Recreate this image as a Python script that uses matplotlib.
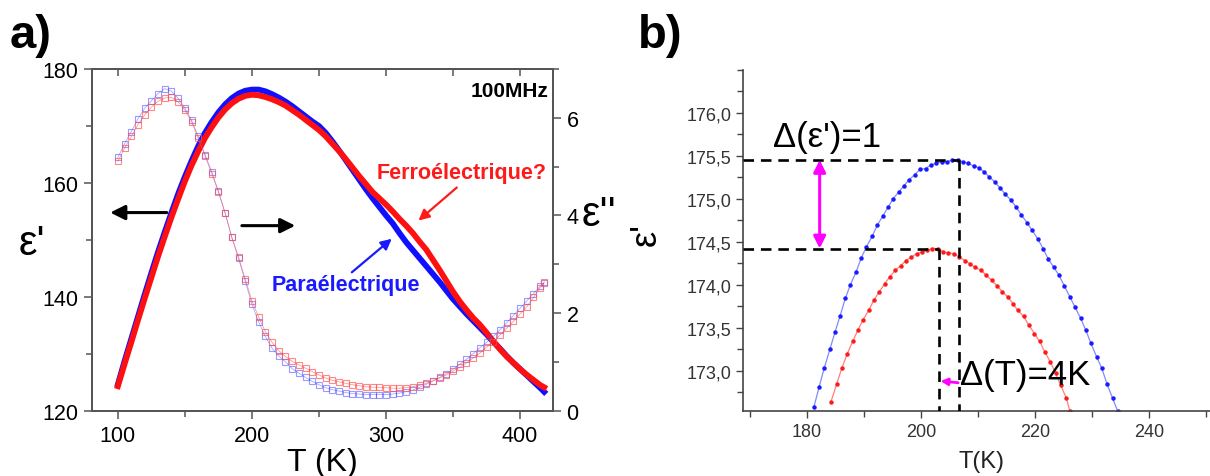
"""Dielectric permittivity vs temperature: full sweep (a) and zoom on the maximum (b)."""

from __future__ import annotations

import matplotlib

matplotlib.use("Agg")
import matplotlib.pyplot as plt
from matplotlib.ticker import FixedLocator, MultipleLocator

plt.rcParams["font.family"] = ["Liberation Sans", "DejaVu Sans"]

# ---- panel a: 100 MHz sweep ----
TEMP_A = [100, 105, 110, 115, 120, 125, 130, 135, 140, 145, 150, 155, 160, 165, 170, 175,
          180, 185, 190, 195, 200, 205, 210, 215, 220, 225, 230, 235, 240, 245, 250, 255,
          260, 265, 270, 275, 280, 285, 290, 295, 300, 305, 310, 315, 320, 325, 330, 335,
          340, 345, 350, 355, 360, 365, 370, 375, 380, 385, 390, 395, 400, 405, 410, 415, 418]

EPS1_PARA = [124.6, 128.7, 132.6, 136.5, 140.4, 144.2, 147.9, 151.4, 154.8, 158.1, 161.1,
             163.9, 166.5, 168.8, 170.7, 172.4, 173.8, 174.9, 175.7, 176.2, 176.4, 176.4,
             176.1, 175.6, 175.0, 174.3, 173.5, 172.6, 171.7, 170.8, 170.0, 168.8, 167.3,
             165.7, 164.0, 162.3, 160.6, 158.9, 157.3, 155.8, 154.3, 152.9, 151.2, 149.6,
             148.2, 146.8, 145.4, 144.0, 142.6, 141.1, 139.6, 138.3, 137.0, 135.8, 134.6,
             133.4, 132.1, 130.9, 129.6, 128.4, 127.3, 126.2, 125.1, 124.0, 123.3]
EPS1_FERRO = [124.3, 128.2, 132.0, 135.9, 139.7, 143.4, 147.1, 150.6, 154.0, 157.2, 160.3,
              163.1, 165.6, 167.9, 169.8, 171.5, 172.9, 174.0, 174.8, 175.3, 175.5, 175.4,
              175.1, 174.7, 174.2, 173.6, 172.8, 172.0, 171.1, 170.2, 169.3, 168.2, 166.9,
              165.6, 164.2, 162.7, 161.2, 159.8, 158.4, 157.3, 156.2, 155.0, 153.7, 152.5,
              151.2, 149.7, 148.3, 146.5, 144.7, 142.8, 140.9, 139.2, 137.7, 136.3, 135.1,
              133.7, 132.2, 130.8, 129.5, 128.4, 127.3, 126.3, 125.4, 124.5, 124.1]
EPS2_PARA = [5.19, 5.47, 5.72, 5.98, 6.20, 6.35, 6.50, 6.60, 6.55, 6.40, 6.20, 5.95, 5.62,
             5.25, 4.90, 4.50, 4.05, 3.55, 3.12, 2.65, 2.18, 1.82, 1.52, 1.28, 1.12, 1.00,
             0.86, 0.77, 0.68, 0.60, 0.53, 0.47, 0.43, 0.40, 0.37, 0.35, 0.34, 0.33, 0.33,
             0.33, 0.33, 0.34, 0.36, 0.39, 0.42, 0.48, 0.54, 0.61, 0.68, 0.76, 0.85, 0.95,
             1.05, 1.17, 1.29, 1.40, 1.52, 1.66, 1.80, 1.95, 2.10, 2.25, 2.40, 2.55, 2.62]
EPS2_FERRO = [5.11, 5.38, 5.62, 5.86, 6.06, 6.22, 6.34, 6.41, 6.42, 6.33, 6.16, 5.92, 5.58,
              5.22, 4.86, 4.48, 4.05, 3.55, 3.15, 2.70, 2.25, 1.92, 1.62, 1.40, 1.23, 1.11,
              1.01, 0.94, 0.87, 0.80, 0.73, 0.67, 0.62, 0.59, 0.56, 0.53, 0.51, 0.49, 0.48,
              0.48, 0.47, 0.46, 0.46, 0.47, 0.49, 0.52, 0.56, 0.61, 0.67, 0.73, 0.81, 0.89,
              0.98, 1.08, 1.18, 1.30, 1.41, 1.55, 1.69, 1.83, 1.98, 2.13, 2.32, 2.52, 2.64]

# ---- panel b: zoom on the maximum ----
TEMP_B_PARA = [181.2, 182.1, 183.0, 184.0, 184.9, 185.8, 186.7, 187.6, 188.6, 189.5, 190.4,
               191.4, 192.3, 193.3, 194.2, 195.1, 196.1, 197.0, 197.9, 198.9, 199.8, 200.8,
               201.7, 202.6, 203.6, 204.5, 205.5, 206.4, 207.3, 208.3, 209.2, 210.1, 211.1,
               212.0, 213.0, 213.9, 214.8, 215.8, 216.7, 217.6, 218.6, 219.5, 220.5, 221.4,
               222.3, 223.3, 224.2, 225.1, 226.1, 227.0, 228.0, 228.9, 229.8, 230.8, 231.7,
               232.6, 233.6, 234.5]
EPS_B_PARA = [172.58, 172.81, 173.03, 173.25, 173.45, 173.64, 173.84, 174.00, 174.15, 174.31,
              174.44, 174.56, 174.69, 174.80, 174.90, 175.00, 175.08, 175.15, 175.22, 175.28,
              175.34, 175.35, 175.39, 175.41, 175.43, 175.43, 175.45, 175.45, 175.43, 175.41,
              175.38, 175.36, 175.31, 175.25, 175.19, 175.12, 175.05, 174.98, 174.90, 174.81,
              174.72, 174.63, 174.53, 174.42, 174.30, 174.20, 174.11, 173.99, 173.86, 173.74,
              173.61, 173.47, 173.32, 173.16, 173.03, 172.85, 172.68, 172.53]
TEMP_B_FERRO = [184.2, 185.2, 186.1, 187.0, 188.0, 188.9, 189.8, 190.8, 191.7, 192.7, 193.6,
                194.5, 195.5, 196.4, 197.3, 198.3, 199.2, 200.2, 201.1, 202.0, 203.0, 203.9,
                204.8, 205.8, 206.7, 207.7, 208.6, 209.5, 210.5, 211.4, 212.4, 213.3, 214.2,
                215.2, 216.1, 217.0, 218.0, 218.9, 219.9, 220.8, 221.7, 222.7, 223.6, 224.5,
                225.5, 226.1]
EPS_B_FERRO = [172.64, 172.85, 173.03, 173.19, 173.34, 173.47, 173.59, 173.70, 173.82, 173.92,
               174.01, 174.09, 174.17, 174.22, 174.28, 174.32, 174.36, 174.38, 174.40, 174.42,
               174.42, 174.38, 174.37, 174.36, 174.32, 174.28, 174.24, 174.20, 174.17, 174.11,
               174.05, 173.99, 173.92, 173.86, 173.78, 173.70, 173.63, 173.53, 173.43, 173.34,
               173.22, 173.10, 172.97, 172.83, 172.68, 172.53]

PEAK_PARA = (206.7, 175.45)
PEAK_FERRO = (203.2, 174.42)
B_YTICKS = [173.0, 173.5, 174.0, 174.5, 175.0, 175.5, 176.0]
B_YTICK_LABELS = ["173,0", "173,5", "174,0", "174,5", "175,0", "175,5", "176,0"]

SPINE_GREY = "#555555"


def draw_panel_a(fig: plt.Figure) -> None:
    ax = fig.add_axes([0.0758, 0.137, 0.3815, 0.716])
    ax.plot(TEMP_A, EPS1_PARA, color="#1010ff", lw=4.2, zorder=3)
    ax.plot(TEMP_A, EPS1_FERRO, color="#ff1010", lw=4.2, zorder=4)
    ax.set_xlim(80.5, 424.8)
    ax.set_ylim(120, 180)
    ax.xaxis.set_major_locator(MultipleLocator(100))
    ax.xaxis.set_minor_locator(MultipleLocator(50))
    ax.yaxis.set_major_locator(MultipleLocator(20))
    ax.yaxis.set_minor_locator(MultipleLocator(10))
    ax.tick_params(which="both", direction="out", labelsize=15.5, color=SPINE_GREY, width=1.1)
    ax.tick_params(which="major", length=6)
    ax.tick_params(which="minor", length=4.5)
    ax.tick_params(axis="x", pad=4)
    top = ax.secondary_xaxis("top")
    top.xaxis.set_major_locator(MultipleLocator(50))
    top.tick_params(direction="in", length=5, labeltop=False, color=SPINE_GREY, width=1.1)
    top.spines["top"].set_color(SPINE_GREY)
    top.spines["top"].set_linewidth(1.3)

    ax2 = ax.twinx()
    ax2.plot(TEMP_A, EPS2_PARA, color="#4a4aff", lw=0.5, alpha=0.55, marker="s", ms=4.8,
             mfc="none", mew=0.8)
    ax2.plot(TEMP_A, EPS2_FERRO, color="#ff4a4a", lw=0.5, alpha=0.65, marker="s", ms=4.8,
             mfc="none", mew=0.8)
    ax2.set_ylim(0, 7)
    ax2.yaxis.set_major_locator(FixedLocator([0, 2, 4, 6]))
    ax2.yaxis.set_minor_locator(MultipleLocator(1))
    ax2.tick_params(which="both", direction="out", labelsize=15.5, color=SPINE_GREY, width=1.1)
    ax2.tick_params(which="major", length=6)
    ax2.tick_params(which="minor", length=4.5)

    for axis in (ax, ax2):
        for spine in axis.spines.values():
            spine.set_color(SPINE_GREY)
            spine.set_linewidth(1.3)

    ax.text(-0.13, 0.49, "ε'", transform=ax.transAxes, fontsize=30, ha="center", va="center")
    ax.text(1.10, 0.575, "ε''", transform=ax.transAxes, fontsize=30, ha="center", va="center")
    ax.set_xlabel("T (K)", fontsize=23, labelpad=1)

    ax.text(421, 176.2, "100MHz", fontsize=15, fontweight="bold", ha="right", va="center",
            zorder=6)
    ax.text(293, 161.9, "Ferroélectrique?", fontsize=15.5, fontweight="bold", color="#ff1a1a",
            ha="left", va="center", zorder=6)
    ax.text(214.8, 142.1, "Paraélectrique", fontsize=15.5, fontweight="bold", color="#1a1aff",
            ha="left", va="center", zorder=6)

    thin = dict(arrowstyle="-|>", lw=1.6, mutation_scale=16, shrinkA=0, shrinkB=0)
    ax.annotate("", xy=(324.2, 153.4), xytext=(352.8, 159.2),
                arrowprops=dict(color="#ff1a1a", **thin), zorder=6)
    ax.annotate("", xy=(304.3, 150.2), xytext=(274.5, 144.3),
                arrowprops=dict(color="#1a1aff", **thin), zorder=6)
    thick = dict(arrowstyle="-|>", lw=2.2, mutation_scale=22, color="black", shrinkA=0, shrinkB=0)
    ax.annotate("", xy=(94.3, 154.8), xytext=(136.5, 154.8), arrowprops=thick, zorder=6)
    ax.annotate("", xy=(232.3, 152.5), xytext=(192.5, 152.5), arrowprops=thick, zorder=6)


def draw_panel_b(fig: plt.Figure) -> None:
    ax = fig.add_axes([0.6143, 0.136, 0.3857, 0.716])
    ax.plot(TEMP_B_PARA, EPS_B_PARA, color="#7f8cff", lw=0.9, marker="o", ms=2.2,
            mfc="#1a1aff", mec="#1a1aff")
    ax.plot(TEMP_B_FERRO, EPS_B_FERRO, color="#ff7f7f", lw=0.9, marker="o", ms=2.2,
            mfc="#ff1a1a", mec="#ff1a1a")
    x_min, x_max = 168.8, 250.7
    y_min, y_max = 172.53, 176.5
    ax.set_xlim(x_min, x_max)
    ax.set_ylim(y_min, y_max)

    dash = dict(color="black", lw=1.9, dashes=(4, 2.6), zorder=4)
    for peak_t, peak_eps in (PEAK_PARA, PEAK_FERRO):
        ax.plot([x_min, peak_t], [peak_eps, peak_eps], **dash)
        ax.plot([peak_t, peak_t], [peak_eps, y_min], **dash)

    ax.annotate("", xy=(182.2, PEAK_PARA[1]), xytext=(182.2, PEAK_FERRO[1]),
                arrowprops=dict(arrowstyle="<|-|>", color="#ff00ff", lw=2.2, mutation_scale=18,
                                shrinkA=0, shrinkB=0), zorder=5)
    ax.annotate("", xy=(203.4, 172.88), xytext=(206.5, 172.86),
                arrowprops=dict(arrowstyle="-|>", color="#ff00ff", lw=2.0, mutation_scale=10,
                                shrinkA=0, shrinkB=0), zorder=5)
    ax.text(174.0, 175.72, "Δ(ε')=1", fontsize=25, ha="left", va="center")
    ax.text(206.9, 172.95, "Δ(T)=4K", fontsize=25, ha="left", va="center")

    ax.xaxis.set_major_locator(MultipleLocator(20))
    ax.xaxis.set_minor_locator(MultipleLocator(10))
    ax.yaxis.set_major_locator(FixedLocator(B_YTICKS))
    ax.set_yticklabels(B_YTICK_LABELS)
    ax.yaxis.set_minor_locator(MultipleLocator(0.25))
    ax.tick_params(which="both", direction="out", labelsize=13, color="#444444",
                   labelcolor="#333333", width=1.0)
    ax.tick_params(which="major", length=5)
    ax.tick_params(which="minor", length=4)
    for side in ("top", "right"):
        ax.spines[side].set_visible(False)
    for side in ("left", "bottom"):
        ax.spines[side].set_color("#444444")
        ax.spines[side].set_linewidth(1.2)

    ax.set_xlabel("T(K)", fontsize=17, color="#222222")
    ax.xaxis.set_label_coords(0.51, -0.115)
    ax.set_ylabel("ε'", fontsize=26)
    ax.yaxis.set_label_coords(-0.17, 0.52)


def main() -> None:
    fig = plt.figure(figsize=(12.1, 4.77), dpi=100)
    draw_panel_a(fig)
    draw_panel_b(fig)
    fig.text(0.008, 0.97, "a)", fontsize=34, fontweight="bold", ha="left", va="top")
    fig.text(0.527, 0.97, "b)", fontsize=34, fontweight="bold", ha="left", va="top")
    fig.savefig("out.png", dpi=100)
    plt.close(fig)


if __name__ == "__main__":
    main()
